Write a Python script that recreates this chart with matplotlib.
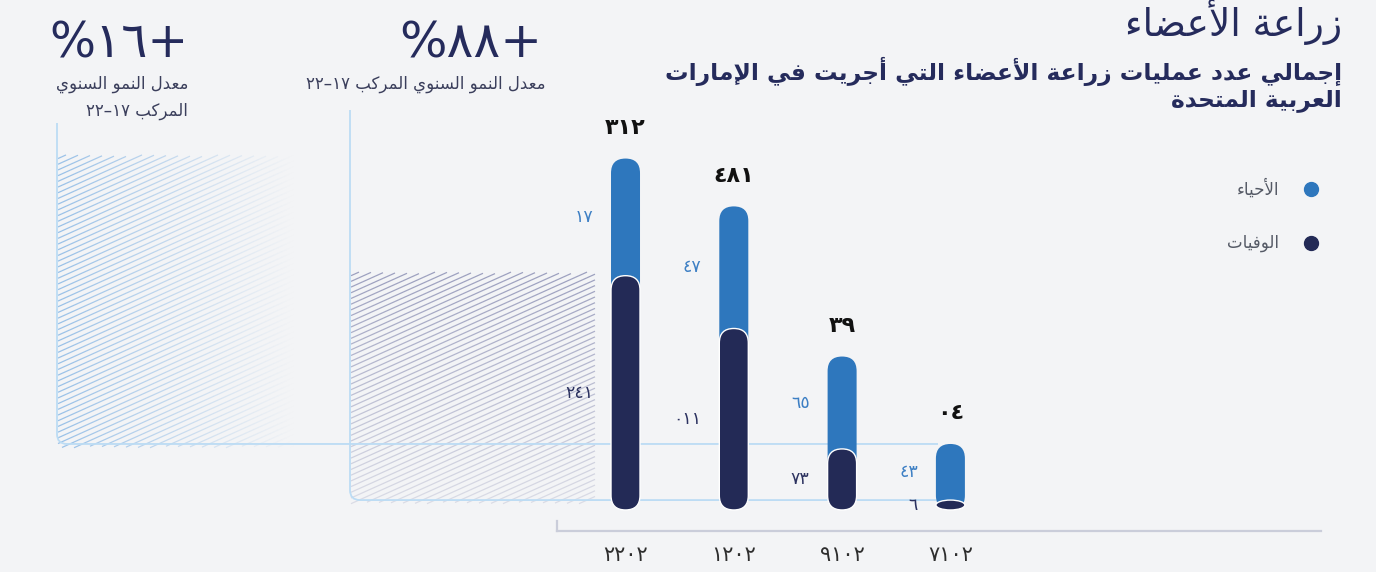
import re
import numpy as np
import matplotlib
matplotlib.use('Agg')
import matplotlib.pyplot as plt
import matplotlib.transforms as mtransforms
import matplotlib.colors as mcolors
from matplotlib.patches import FancyBboxPatch, Ellipse, Rectangle, PathPatch
from matplotlib.collections import LineCollection
from matplotlib.path import Path

# data (years run right-to-left like the source)
years = [2022, 2021, 2019, 2017]
live = [71, 74, 56, 34]
deceased = [142, 110, 37, 6]
cagr_live = 16
cagr_deceased = 88

title = 'زراعة الأعضاء'
subtitle = ['إجمالي عدد عمليات زراعة الأعضاء التي أجريت في الإمارات', 'العربية المتحدة']
legend_labels = ['الأحياء', 'الوفيات']
cagr_label = 'معدل النمو السنوي'
cagr_label2 = 'المركب'
period = '١٧–٢٢'

BLUE = '#2e77bd'
NAVY = '#232a56'
LIGHT = '#bcdcf4'
INK = '#252b5c'

AR_DIGITS = '٠١٢٣٤٥٦٧٨٩'

# --- tiny arabic shaper (matplotlib has no shaping / bidi) ---
FORMS = {
    'ء': ('\uFE80',),
    'آ': ('\uFE81', '\uFE82'),
    'أ': ('\uFE83', '\uFE84'),
    'إ': ('\uFE87', '\uFE88'),
    'ا': ('\uFE8D', '\uFE8E'),
    'ب': ('\uFE8F', '\uFE90', '\uFE91', '\uFE92'),
    'ة': ('\uFE93', '\uFE94'),
    'ت': ('\uFE95', '\uFE96', '\uFE97', '\uFE98'),
    'ج': ('\uFE9D', '\uFE9E', '\uFE9F', '\uFEA0'),
    'ح': ('\uFEA1', '\uFEA2', '\uFEA3', '\uFEA4'),
    'د': ('\uFEA9', '\uFEAA'),
    'ر': ('\uFEAD', '\uFEAE'),
    'ز': ('\uFEAF', '\uFEB0'),
    'س': ('\uFEB1', '\uFEB2', '\uFEB3', '\uFEB4'),
    'ض': ('\uFEBD', '\uFEBE', '\uFEBF', '\uFEC0'),
    'ع': ('\uFEC9', '\uFECA', '\uFECB', '\uFECC'),
    'ف': ('\uFED1', '\uFED2', '\uFED3', '\uFED4'),
    'ك': ('\uFED9', '\uFEDA', '\uFEDB', '\uFEDC'),
    'ل': ('\uFEDD', '\uFEDE', '\uFEDF', '\uFEE0'),
    'م': ('\uFEE1', '\uFEE2', '\uFEE3', '\uFEE4'),
    'ن': ('\uFEE5', '\uFEE6', '\uFEE7', '\uFEE8'),
    'و': ('\uFEED', '\uFEEE'),
    'ي': ('\uFEF1', '\uFEF2', '\uFEF3', '\uFEF4'),
}
LAM_ALEF = {'آ': ('\uFEF5', '\uFEF6'), 'أ': ('\uFEF7', '\uFEF8'),
            'إ': ('\uFEF9', '\uFEFA'), 'ا': ('\uFEFB', '\uFEFC')}


def shape(s):
    items = []
    i = 0
    while i < len(s):
        if s[i] == 'ل' and i + 1 < len(s) and s[i + 1] in LAM_ALEF:
            items.append(('LA', s[i + 1]))
            i += 2
        else:
            items.append((s[i], None))
            i += 1

    def joins(it):
        return it[0] == 'LA' or (it[0] in FORMS and len(FORMS[it[0]]) > 1)

    def dual(it):
        return it[0] in FORMS and len(FORMS[it[0]]) == 4

    out = []
    for k, it in enumerate(items):
        c, a = it
        prev = items[k - 1] if k > 0 else None
        nxt = items[k + 1] if k + 1 < len(items) else None
        p = prev is not None and dual(prev) and joins(it)
        if c == 'LA':
            out.append(LAM_ALEF[a][1 if p else 0])
            continue
        if c not in FORMS:
            out.append(c)
            continue
        n = nxt is not None and dual(it) and joins(nxt)
        f = FORMS[c]
        if len(f) == 1:
            out.append(f[0])
        elif p and n:
            out.append(f[3])
        elif p:
            out.append(f[1])
        elif n:
            out.append(f[2])
        else:
            out.append(f[0])
    return ''.join(out)


def rtl(s):
    t = shape(s)
    runs = re.findall('[' + AR_DIGITS + ']+|[^' + AR_DIGITS + ']+', t)
    return ''.join(r if r[0] in AR_DIGITS else r[::-1] for r in reversed(runs))


def ar_num(n):
    return ''.join(AR_DIGITS[int(c)] for c in str(n))


plt.rcParams['font.family'] = ['DejaVu Sans']

W, H = 1376, 572
fig = plt.figure(figsize=(W / 100, H / 100), dpi=100, facecolor='#f3f4f6')
ax = fig.add_axes([0, 0, 1, 1])
ax.set_xlim(-5.776, 6.930)
ax.set_ylim(-37.6, 309.1)
ax.axis('off')

pix = mtransforms.Affine2D().scale(1, -1).translate(0, H)
sx = W / (6.930 + 5.776)
sy = H / (309.1 + 37.6)
asp = sx / sy

totals = [a + b for a, b in zip(live, deceased)]


def ypx(v):
    return H - ax.transData.transform((0, v))[1]


# light frames + hatching behind the bars
def frame(xl, yt, yb, xr, r=10):
    verts = [(xl, yt), (xl, yb - r), (xl, yb), (xl + r, yb), (xr, yb)]
    codes = [Path.MOVETO, Path.LINETO, Path.CURVE3, Path.CURVE3, Path.LINETO]
    ax.add_patch(PathPatch(Path(verts, codes), transform=pix, fill=False,
                           ec=LIGHT, lw=1.3, zorder=2))


def hatch(x0, x1, y0, y1, color, alpha_fn):
    rgb = mcolors.to_rgb(color)
    segs, cols = [], []
    slope, gap, step = 0.45, 5.7, 4.0
    c = y0
    while c < y1 + slope * (x1 - x0):
        xs = np.arange(x0, x1 + step, step)
        for xa, xb in zip(xs[:-1], xs[1:]):
            ya = c - slope * (xa - x0)
            yb = c - slope * (xb - x0)
            ym = (ya + yb) / 2
            if ym < y0 - 3 or ym > y1 + 3:
                continue
            segs.append([(xa, ya), (xb, yb)])
            cols.append(rgb + (max(0.0, min(1.0, alpha_fn((xa + xb) / 2, ym))),))
        c += gap
    lc = LineCollection(segs, colors=cols, lw=0.9, transform=pix, zorder=1)
    clip = Rectangle((x0, y0), x1 - x0, y1 - y0, transform=pix)
    lc.set_clip_path(clip)
    ax.add_collection(lc)


t1, b1 = ypx(totals[0]), ypx(totals[-1])
t2, b2 = ypx(deceased[0]), ypx(deceased[-1])
hatch(58, 300, t1, b1, '#8fbbe6', lambda x, y: 0.9 * (1 - (x - 58) / 235))
hatch(351, 594, t2, b2, '#8e92b6', lambda x, y: 0.85 - 0.6 * (y - t2) / (b2 - t2))
frame(57, 123, b1, 938)
frame(350, 110, b2, 936)

# bars
bw = 29 / sx
for i in range(len(years)):
    ax.add_patch(FancyBboxPatch((i - bw / 2, 0), bw, totals[i],
                                boxstyle=f'round,pad=0,rounding_size={bw / 2}',
                                mutation_aspect=asp, fc=BLUE, ec='none', zorder=3))
    d = deceased[i]
    if d * sy > 29:
        ax.add_patch(FancyBboxPatch((i - bw / 2, 0), bw, d,
                                    boxstyle=f'round,pad=0,rounding_size={bw / 2}',
                                    mutation_aspect=asp, fc=NAVY, ec='white', lw=1, zorder=4))
    else:
        ax.add_patch(Ellipse((i, d / 2), bw, d, fc=NAVY, ec='white', lw=1, zorder=4))

    # numbers appear digit-reversed in the source graphic
    ax.text(i, totals[i] + 18.5, ar_num(totals[i])[::-1], ha='center', va='center',
            fontsize=16, fontweight='bold', color='#111111', zorder=5)
    ax.text(i - 0.3, (d + totals[i]) / 2, ar_num(live[i])[::-1], ha='right', va='center',
            fontsize=12.5, color='#3d7fc4', zorder=5)
    ax.text(i - 0.3, d / 2, ar_num(d)[::-1], ha='right', va='center',
            fontsize=12.5, color='#2c3260', zorder=5)

# x axis
ax.plot([557, 1321], [531, 531], transform=pix, color='#cacdda', lw=1.6, zorder=2)
ax.plot([557, 557], [521, 531], transform=pix, color='#cacdda', lw=1.6, zorder=2)
bt = mtransforms.blended_transform_factory(ax.transData, pix)
for i, yr in enumerate(years):
    ax.text(i, 555, ar_num(yr)[::-1], transform=bt, ha='center', va='center',
            fontsize=15, color='#2e2e2e')

# legend
for k, (lab, col) in enumerate(zip(legend_labels, [BLUE, NAVY])):
    yy = 189 + 54 * k
    ax.plot([1311], [yy], 'o', ms=10, color=col, transform=pix)
    ax.text(1279, yy, rtl(lab), transform=pix, ha='right', va='center',
            fontsize=12, color='#555a66')

# titles
fig.text(1342 / W, 1 - 36 / H, rtl(title), ha='right', va='baseline',
         fontsize=27, color=INK)
for k, line in enumerate(subtitle):
    fig.text(1342 / W, 1 - (71 + 29 * k) / H, rtl(line), ha='right', va='center',
             fontsize=16.8, fontweight='bold', color=INK)

# cagr call-outs
fig.text(542 / W, 1 - 44 / H, rtl('+' + ar_num(cagr_deceased) + '%'), ha='right',
         va='center', fontsize=36, color=INK)
fig.text(545 / W, 1 - 84 / H, rtl(cagr_label + ' ' + cagr_label2 + ' ' + period),
         ha='right', va='center', fontsize=12, color='#3b3f5c')
fig.text(188 / W, 1 - 44 / H, rtl('+' + ar_num(cagr_live) + '%'), ha='right',
         va='center', fontsize=35, color=INK)
fig.text(188 / W, 1 - 84 / H, rtl(cagr_label), ha='right', va='center',
         fontsize=12, color='#3b3f5c')
fig.text(188 / W, 1 - 111 / H, rtl(cagr_label2 + ' ' + period), ha='right',
         va='center', fontsize=12, color='#3b3f5c')

fig.savefig('out.png', dpi=100, facecolor=fig.get_facecolor())
